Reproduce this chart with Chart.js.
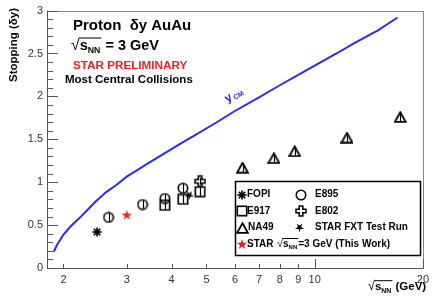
<!DOCTYPE html>
<html>
<head>
<meta charset="utf-8">
<script src="https://cdn.jsdelivr.net/npm/chart.js@4.4.0/dist/chart.umd.min.js"></script>
<style>
  html, body { margin: 0; padding: 0; background: #fff; }
  #c { display: block; }
</style>
</head>
<body>
<canvas id="c" width="434" height="296"></canvas>
<script>
// y_CM curve
const ycmSqrtS = [1.88, 1.92, 1.96, 2.0, 2.05, 2.1, 2.2, 2.3, 2.45, 2.63, 2.8, 3.0, 3.25, 3.5, 3.8, 4.2, 4.7, 5.3, 6.0, 7.0, 8.0, 9.0, 10, 11.5, 13, 15, 17];
const ycmValues = [0.19, 0.27, 0.33, 0.39, 0.44, 0.49, 0.57, 0.65, 0.77, 0.885, 0.965, 1.065, 1.155, 1.24, 1.33, 1.44, 1.56, 1.69, 1.83, 1.99, 2.13, 2.25, 2.36, 2.50, 2.63, 2.77, 2.92];

// experiments
const fopiX = [2.48], fopiY = [0.42];
const e895X = [2.67, 3.32, 3.83, 4.30], e895Y = [0.59, 0.74, 0.81, 0.93], e895Err = [0.05, 0.05, 0.05, 0.05];
const e917X = [3.83, 4.30, 4.80], e917Y = [0.73, 0.80, 0.89], e917Err = [0.06, 0.05, 0.05];
const e802X = [4.80], e802Y = [1.01], e802Err = [0.04];
const na49X = [6.3, 7.7, 8.8, 12.3, 17.3], na49Y = [1.17, 1.28, 1.36, 1.52, 1.76], na49Err = [0.05, 0.05, 0.05, 0.05, 0.05];
const fxtX = [4.48], fxtY = [0.85];
const starX = [3.0], starY = [0.62];

const xTicks = [2, 3, 4, 5, 6, 7, 8, 9, 10, 20];
const yTicks = [0, 0.5, 1, 1.5, 2, 2.5, 3];

const FONT = '"Liberation Sans", Arial, Helvetica, sans-serif';
const BLUE = '#2a2af5';
const RED = '#f01e1e';

const pts = (xs, ys) => xs.map((x, i) => ({ x, y: ys[i] }));

// marker images
function makeMarker(w, h, draw) {
  const c = document.createElement('canvas');
  c.width = w; c.height = h;
  const g = c.getContext('2d');
  g.strokeStyle = '#000'; g.fillStyle = '#000';
  draw(g, w / 2, h / 2);
  return c;
}
function starPath(g, cx, cy, ro, ri, rot) {
  g.beginPath();
  for (let i = 0; i < 10; i++) {
    const r = i % 2 ? ri : ro;
    const a = rot + i * Math.PI / 5;
    g.lineTo(cx + r * Math.sin(a), cy - r * Math.cos(a));
  }
  g.closePath();
}
const mkAsterisk = makeMarker(12, 12, (g, cx, cy) => {
  g.lineWidth = 1.7;
  for (let i = 0; i < 4; i++) {
    const a = i * Math.PI / 4;
    g.beginPath();
    g.moveTo(cx - 4.6 * Math.cos(a), cy - 4.6 * Math.sin(a));
    g.lineTo(cx + 4.6 * Math.cos(a), cy + 4.6 * Math.sin(a));
    g.stroke();
  }
});
const mkCircle = makeMarker(12, 12, (g, cx, cy) => {
  g.lineWidth = 1.6;
  g.beginPath(); g.arc(cx, cy, 4.7, 0, Math.PI * 2); g.stroke();
});
const mkSquare = makeMarker(12, 12, (g) => {
  g.lineWidth = 1.6;
  g.strokeRect(1.3, 1.3, 9.4, 9.4);
});
const mkCross = makeMarker(12, 12, (g, cx, cy) => {
  g.lineWidth = 1.5;
  const a = 1.8, e = 5;
  g.beginPath();
  g.moveTo(cx - a, cy - e); g.lineTo(cx + a, cy - e); g.lineTo(cx + a, cy - a);
  g.lineTo(cx + e, cy - a); g.lineTo(cx + e, cy + a); g.lineTo(cx + a, cy + a);
  g.lineTo(cx + a, cy + e); g.lineTo(cx - a, cy + e); g.lineTo(cx - a, cy + a);
  g.lineTo(cx - e, cy + a); g.lineTo(cx - e, cy - a); g.lineTo(cx - a, cy - a);
  g.closePath(); g.stroke();
});
const mkTriangle = makeMarker(13, 12, (g) => {
  g.lineWidth = 1.8;
  g.beginPath(); g.moveTo(6.5, 1.2); g.lineTo(11.8, 10.8); g.lineTo(1.2, 10.8); g.closePath(); g.stroke();
});
const mkFxt = makeMarker(11, 11, (g, cx, cy) => {
  starPath(g, cx, cy, 4.8, 1.7, Math.PI); g.fill();
});
const mkStar = makeMarker(12, 12, (g, cx, cy) => {
  g.fillStyle = RED;
  starPath(g, cx, cy + 0.5, 5.6, 2.1, 0); g.fill();
});

// error bars and frame, labels, legend
const decor = {
  id: 'decor',
  afterDatasetsDraw(chart) {
    const { ctx, scales: { x, y } } = chart;
    ctx.save();
    ctx.strokeStyle = '#000';
    ctx.lineWidth = 1.2;
    [[e895X, e895Y, e895Err], [e917X, e917Y, e917Err], [e802X, e802Y, e802Err], [na49X, na49Y, na49Err]].forEach(([xs, ys, es]) => {
      xs.forEach((v, i) => {
        const px = Math.round(x.getPixelForValue(v)) + 0.5;
        ctx.beginPath();
        ctx.moveTo(px, y.getPixelForValue(ys[i] - es[i]));
        ctx.lineTo(px, y.getPixelForValue(ys[i] + es[i]));
        ctx.stroke();
      });
    });
    ctx.restore();
  },
  afterDraw(chart) {
    const { ctx, chartArea: a, scales: { x, y } } = chart;
    ctx.save();

    // frame
    ctx.strokeStyle = '#888';
    ctx.lineWidth = 1;
    ctx.strokeRect(Math.round(a.left) + 0.5, Math.round(a.top) + 0.5, Math.round(a.right - a.left), Math.round(a.bottom - a.top));
    ctx.strokeStyle = '#555';
    ctx.beginPath();
    ctx.moveTo(Math.round(a.left) + 0.5, a.top); ctx.lineTo(Math.round(a.left) + 0.5, a.bottom + 0.5);
    ctx.lineTo(a.right, Math.round(a.bottom) + 0.5);
    ctx.stroke();

    // y ticks (inward)
    ctx.beginPath();
    for (let k = 0; k <= 30; k++) {
      const v = k / 10;
      const py = Math.round(y.getPixelForValue(v)) + 0.5;
      const len = k % 5 === 0 ? 11 : 6;
      ctx.moveTo(a.left, py); ctx.lineTo(a.left + len, py);
    }
    // x ticks (inward)
    xTicks.forEach(v => {
      const px = Math.round(x.getPixelForValue(v)) + 0.5;
      const len = (v === 10 || v === 20) ? 9 : 4;
      ctx.moveTo(px, a.bottom); ctx.lineTo(px, a.bottom - len);
    });
    ctx.stroke();

    // y axis title
    ctx.fillStyle = '#000';
    ctx.save();
    ctx.translate(14, 8);
    ctx.rotate(-Math.PI / 2);
    ctx.font = 'bold 11.5px ' + FONT;
    ctx.textAlign = 'right';
    ctx.textBaseline = 'middle';
    ctx.fillText('Stopping (\u03b4y)', 0, 0);
    ctx.restore();

    // x axis title
    drawSqrtS(ctx, 368, 287, 11.5, ' (GeV)');

    // header texts
    ctx.textBaseline = 'middle';
    ctx.textAlign = 'left';
    ctx.fillStyle = '#000';
    ctx.font = 'bold 15px ' + FONT;
    ctx.fillText('Proton  \u03b4y AuAu', 73, 26);
    drawSqrtS(ctx, 71, 46, 14.5, ' = 3 GeV');
    ctx.font = 'bold 11.7px ' + FONT;
    ctx.fillStyle = RED;
    ctx.fillText('STAR PRELIMINARY', 73, 66);
    ctx.font = 'bold 11.5px ' + FONT;
    ctx.fillStyle = '#000';
    ctx.fillText('Most Central Collisions', 65, 80);

    // y_CM label on the curve
    ctx.save();
    ctx.translate(x.getPixelForValue(5.65), y.getPixelForValue(1.96));
    ctx.rotate(-30 * Math.PI / 180);
    ctx.fillStyle = BLUE;
    ctx.font = 'bold 12px ' + FONT;
    ctx.textAlign = 'left';
    ctx.fillText('y', 0, 0);
    ctx.font = 'bold 7px ' + FONT;
    ctx.fillText('CM', 8, 3);
    ctx.restore();

    // legend
    ctx.strokeStyle = '#000';
    ctx.lineWidth = 1.5;
    ctx.strokeRect(235.5, 181.5, 185, 74);
    ctx.font = 'bold 10px ' + FONT;
    ctx.fillStyle = '#000';
    ctx.textBaseline = 'middle';
    const rows = [194.5, 211, 227.5, 244];
    const put = (img, cx, cy) => ctx.drawImage(img, Math.round(cx - img.width / 2), Math.round(cy - img.height / 2));
    put(mkAsterisk, 241.5, rows[0]); ctx.fillText('FOPI', 247, rows[0]);
    put(mkSquare, 241.5, rows[1]); ctx.fillText('E917', 247, rows[1]);
    put(mkTriangle, 242, rows[2]); ctx.fillText('NA49', 248, rows[2]);
    put(mkStar, 241.5, rows[3]); ctx.fillText('STAR', 247, rows[3]);
    put(mkCircle, 301, rows[0]); ctx.fillText('E895', 315, rows[0]);
    put(mkCross, 301, rows[1]); ctx.fillText('E802', 315, rows[1]);
    put(mkFxt, 299, rows[2]); ctx.fillText('STAR FXT Test Run', 315, rows[2]);
    drawSqrtS(ctx, 277, rows[3], 10, '=3 GeV (This Work)');

    ctx.restore();
  }
};

// draws "sqrt(s_NN)" followed by text, left edge at x, vertical centre at y
function drawSqrtS(ctx, x, y, size, rest) {
  ctx.save();
  ctx.fillStyle = '#000';
  ctx.strokeStyle = '#000';
  ctx.textAlign = 'left';
  ctx.textBaseline = 'middle';
  ctx.font = (size * 1.1) + 'px ' + FONT;
  ctx.fillText('\u221a', x, y - size * 0.05);
  let cx = x + ctx.measureText('\u221a').width;
  const x0 = cx;
  ctx.font = 'bold ' + size + 'px ' + FONT;
  ctx.fillText('s', cx, y);
  cx += ctx.measureText('s').width;
  ctx.font = 'bold ' + (size * 0.6) + 'px ' + FONT;
  ctx.fillText('NN', cx, y + size * 0.32);
  cx += ctx.measureText('NN').width + 1;
  ctx.lineWidth = Math.max(1, size / 14);
  ctx.beginPath();
  ctx.moveTo(x0 - 0.5, y - size * 0.55);
  ctx.lineTo(cx, y - size * 0.55);
  ctx.stroke();
  ctx.font = 'bold ' + size + 'px ' + FONT;
  ctx.fillText(rest, cx, y);
  ctx.restore();
}

const scatter = (data, img) => ({
  type: 'scatter', data, pointStyle: img, pointRadius: 6, pointHoverRadius: 6,
  borderWidth: 0, backgroundColor: 'transparent'
});

new Chart(document.getElementById('c'), {
  type: 'scatter',
  data: {
    datasets: [
      { type: 'line', data: pts(ycmSqrtS, ycmValues), borderColor: BLUE, borderWidth: 2, pointRadius: 0, tension: 0, fill: false },
      scatter(pts(fopiX, fopiY), mkAsterisk),
      scatter(pts(e895X, e895Y), mkCircle),
      scatter(pts(e917X, e917Y), mkSquare),
      scatter(pts(e802X, e802Y), mkCross),
      scatter(pts(na49X, na49Y), mkTriangle),
      scatter(pts(fxtX, fxtY), mkFxt),
      scatter(pts(starX, starY), mkStar)
    ]
  },
  options: {
    responsive: false,
    animation: false,
    devicePixelRatio: 1,
    layout: { padding: { top: 9, right: 6, left: 0, bottom: 0 } },
    plugins: { legend: { display: false }, tooltip: { enabled: false } },
    scales: {
      x: {
        type: 'logarithmic', min: 1.8, max: 20,
        afterBuildTicks: s => { s.ticks = xTicks.map(v => ({ value: v })); },
        afterFit: s => { s.height = 28; },
        grid: { display: false, drawTicks: false },
        border: { display: false },
        ticks: { autoSkip: false, maxRotation: 0, padding: 5, color: '#333', font: { family: FONT, size: 11 }, callback: v => String(v) }
      },
      y: {
        min: 0, max: 3,
        afterBuildTicks: s => { s.ticks = yTicks.map(v => ({ value: v })); },
        afterFit: s => { s.width = 47; },
        grid: { display: false, drawTicks: false },
        border: { display: false },
        ticks: { padding: 4, color: '#333', font: { family: FONT, size: 11 }, callback: v => String(v) }
      }
    }
  },
  plugins: [decor]
});
</script>
</body>
</html>
